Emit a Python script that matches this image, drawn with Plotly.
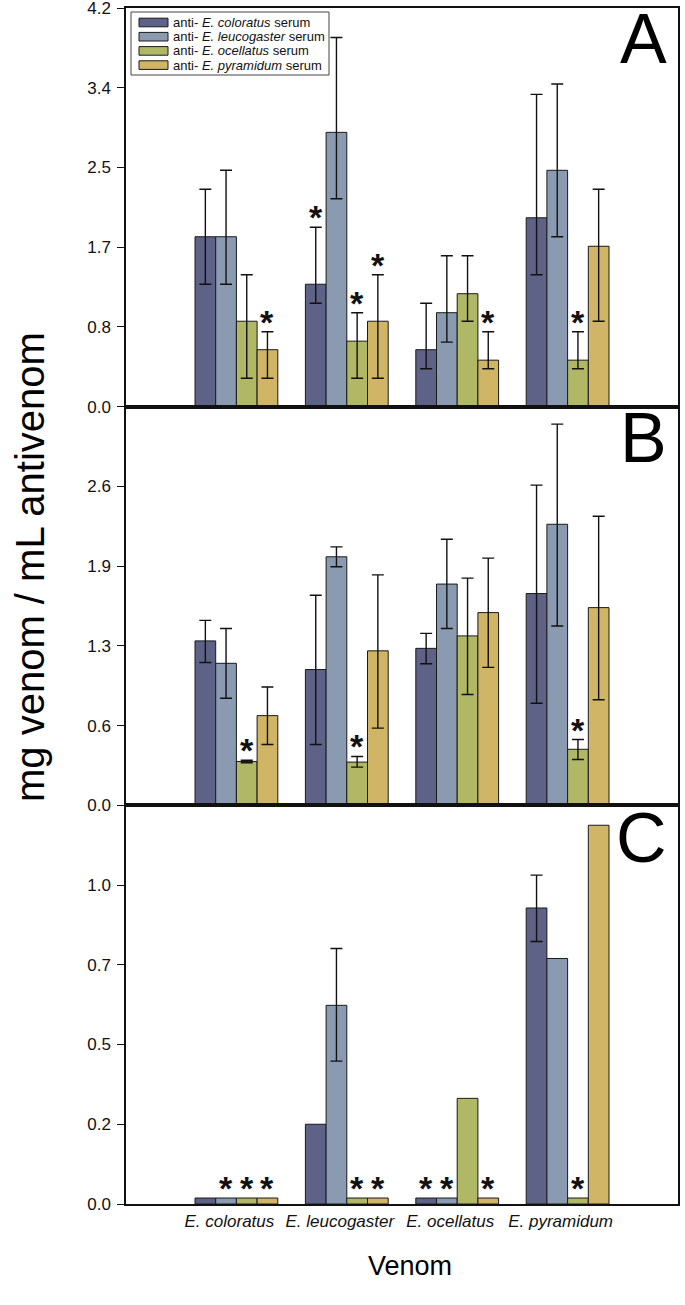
import plotly.graph_objects as go
from plotly.subplots import make_subplots

# ---------------- data ----------------
venoms = ["E. coloratus", "E. leucogaster", "E. ocellatus", "E. pyramidum"]
sera = ["coloratus", "leucogaster", "ocellatus", "pyramidum"]
colors = ["#5e6286", "#8a9bb1", "#b0b866", "#d0b566"]

# Panel A (value, upper end of error bar, lower end of error bar), order of venoms
A_col = [1.79, 1.29, 0.60, 1.99]
A_col_hi = [2.29, 1.89, 1.09, 3.29]
A_col_lo = [1.29, 1.09, 0.40, 1.39]
A_leu = [1.79, 2.89, 0.99, 2.49]
A_leu_hi = [2.49, 3.89, 1.59, 3.40]
A_leu_lo = [1.29, 2.19, 0.68, 1.79]
A_oce = [0.90, 0.69, 1.19, 0.49]
A_oce_hi = [1.39, 0.99, 1.59, 0.79]
A_oce_lo = [0.30, 0.30, 0.90, 0.40]
A_pyr = [0.60, 0.90, 0.49, 1.69]
A_pyr_hi = [0.79, 1.39, 0.79, 2.29]
A_pyr_lo = [0.30, 0.30, 0.40, 0.90]

# Panel B
B_col = [1.32, 1.09, 1.26, 1.70]
B_col_hi = [1.485, 1.686, 1.38, 2.57]
B_col_lo = [1.147, 0.488, 1.136, 0.82]
B_leu = [1.14, 1.995, 1.776, 2.256]
B_leu_hi = [1.42, 2.075, 2.136, 3.06]
B_leu_lo = [0.86, 1.915, 1.42, 1.44]
B_oce = [0.352, 0.347, 1.36, 0.45]
B_oce_hi = [0.362, 0.392, 1.824, 0.528]
B_oce_lo = [0.342, 0.307, 0.89, 0.368]
B_pyr = [0.72, 1.24, 1.547, 1.587]
B_pyr_hi = [0.95, 1.85, 1.984, 2.32]
B_pyr_lo = [0.488, 0.62, 1.107, 0.848]

# Panel C
C_col = [0.018, 0.24, 0.018, 0.891]
C_col_hi = [None, None, None, 0.99]
C_col_lo = [None, None, None, 0.79]
C_leu = [0.018, 0.598, 0.018, 0.739]
C_leu_hi = [None, 0.769, None, None]
C_leu_lo = [None, 0.43, None, None]
C_oce = [0.018, 0.018, 0.318, 0.018]
C_oce_hi = [None, None, None, None]
C_oce_lo = [None, None, None, None]
C_pyr = [0.018, 0.018, 0.018, 1.14]
C_pyr_hi = [None, None, None, None]
C_pyr_lo = [None, None, None, None]

# significance asterisks (1 = asterisk above bar)
A_star = {"coloratus": [0, 1, 0, 0], "leucogaster": [0, 0, 0, 0],
          "ocellatus": [0, 1, 0, 1], "pyramidum": [1, 1, 1, 0]}
B_star = {"coloratus": [0, 0, 0, 0], "leucogaster": [0, 0, 0, 0],
          "ocellatus": [1, 1, 0, 1], "pyramidum": [0, 0, 0, 0]}
C_star = {"coloratus": [0, 0, 1, 0], "leucogaster": [1, 0, 1, 0],
          "ocellatus": [1, 1, 0, 1], "pyramidum": [1, 1, 1, 0]}

# axis ticks
A_tickvals = [0, 0.84, 1.68, 2.52, 3.36, 4.2]
A_ticktext = ["0.0", "0.8", "1.7", "2.5", "3.4", "4.2"]
B_tickvals = [0, 0.64, 1.28, 1.92, 2.56]
B_ticktext = ["0.0", "0.6", "1.3", "1.9", "2.6"]
C_tickvals = [0, 0.24, 0.48, 0.72, 0.96]
C_ticktext = ["0.0", "0.2", "0.5", "0.7", "1.0"]
A_range = [0, 4.2]
B_range = [0, 3.2]
C_range = [0, 1.2]

panels = [
    ("A", [A_col, A_leu, A_oce, A_pyr], [A_col_hi, A_leu_hi, A_oce_hi, A_pyr_hi],
     [A_col_lo, A_leu_lo, A_oce_lo, A_pyr_lo], A_star, A_tickvals, A_ticktext, A_range),
    ("B", [B_col, B_leu, B_oce, B_pyr], [B_col_hi, B_leu_hi, B_oce_hi, B_pyr_hi],
     [B_col_lo, B_leu_lo, B_oce_lo, B_pyr_lo], B_star, B_tickvals, B_ticktext, B_range),
    ("C", [C_col, C_leu, C_oce, C_pyr], [C_col_hi, C_leu_hi, C_oce_hi, C_pyr_hi],
     [C_col_lo, C_leu_lo, C_oce_lo, C_pyr_lo], C_star, C_tickvals, C_ticktext, C_range),
]

# ---------------- layout geometry ----------------
W, H = 685, 1305
ML, MR, MT, MB = 126, 7, 8, 101
PW, PH = W - ML - MR, H - MT - MB
FONT = "Liberation Sans, Arial, sans-serif"
BARGAP = 0.25
x_pos = list(range(len(venoms)))


def xp(px):
    return (px - ML) / PW


def yp(py):
    return (H - MB - py) / PH


def err_amount(bound, vals, upper):
    # "NaN" makes plotly skip the error bar for that bar entirely
    out = []
    for b, a in zip(bound, vals):
        if b is None:
            out.append("NaN")
        else:
            out.append(round(b - a, 4) if upper else round(a - b, 4))
    return out


fig = make_subplots(rows=3, cols=1, shared_xaxes=True, vertical_spacing=0)

annotations = []
nser = len(sera)
bw = (1 - BARGAP) / nser
for r, (letter, vals, his, los, stars, tv, tt, rng) in enumerate(panels, start=1):
    yref = "y" if r == 1 else f"y{r}"
    for j, s in enumerate(sera):
        v = vals[j]
        hi = his[j]
        lo = los[j]
        fig.add_trace(go.Bar(
            x=x_pos, y=v, name=f"anti-{s}",
            marker=dict(color=colors[j], line=dict(color="#1a1a1a", width=1)),
            error_y=dict(type="data", symmetric=False,
                         array=err_amount(hi, v, True),
                         arrayminus=err_amount(lo, v, False),
                         color="#111111", thickness=1.4, width=6),
            showlegend=False, hoverinfo="skip",
        ), row=r, col=1)
        for i in range(len(venoms)):
            if stars[s][i]:
                top = hi[i] if hi[i] is not None else v[i]
                annotations.append(dict(
                    x=i - (1 - BARGAP) / 2 + bw * (j + 0.5), y=top,
                    xref="x" if r == 1 else f"x{r}", yref=yref,
                    text="<b>*</b>", showarrow=False, yanchor="bottom",
                    yshift=-11, font=dict(family=FONT, size=34, color="#111111")))
    fig.update_yaxes(row=r, col=1, range=rng, tickvals=tv, ticktext=tt,
                     ticks="outside", ticklen=7, tickwidth=1.3, tickcolor="#111111",
                     showline=True, linecolor="#111111", linewidth=1.5, mirror=True,
                     showgrid=False, zeroline=False, automargin=False,
                     ticklabeloverflow="allow", ticklabelstandoff=3,
                     tickfont=dict(family=FONT, size=17, color="#111111"))
    fig.update_xaxes(row=r, col=1, range=[-1, 4], tickvals=x_pos,
                     ticktext=[f"<i>{v}</i>" for v in venoms],
                     showticklabels=(r == 3), ticks="", automargin=False,
                     showline=True, linecolor="#111111", linewidth=1.5, mirror=True,
                     showgrid=False, zeroline=False,
                     tickfont=dict(family=FONT, size=17, color="#111111"))
    # panel letter
    dom_top = [6, 405, 805][r - 1]
    annotations.append(dict(x=xp(669), y=yp(dom_top - 8), xref="paper", yref="paper",
                            text=letter, showarrow=False, xanchor="right", yanchor="top",
                            font=dict(family=FONT, size=70, color="black")))

fig.update_xaxes(row=3, col=1, ticklabelstandoff=1, ticklabelshift=-7)

# axis titles
annotations.append(dict(x=xp(30), y=yp(567), xref="paper", yref="paper",
                        text="mg venom / mL antivenom", textangle=-90, showarrow=False,
                        xanchor="center", yanchor="middle",
                        font=dict(family=FONT, size=40, color="black")))
annotations.append(dict(x=xp(410), y=yp(1266), xref="paper", yref="paper",
                        text="Venom", showarrow=False, xanchor="center", yanchor="middle",
                        font=dict(family=FONT, size=27, color="black")))

# manual legend (compact, as in the reference)
shapes = []
leg_x0, leg_x1, leg_y0, leg_y1 = 131, 329, 12, 75
shapes.append(dict(type="rect", xref="paper", yref="paper",
                   x0=xp(leg_x0), x1=xp(leg_x1), y0=yp(leg_y1), y1=yp(leg_y0),
                   line=dict(color="#444444", width=1), fillcolor="white", layer="above"))
row_y0, row_step = 22.5, 14.2
for j, s in enumerate(sera):
    cy = row_y0 + row_step * j
    shapes.append(dict(type="rect", xref="paper", yref="paper",
                       x0=xp(139), x1=xp(168), y0=yp(cy + 4.3), y1=yp(cy - 4.3),
                       line=dict(color="#1a1a1a", width=1), fillcolor=colors[j],
                       layer="above"))
    annotations.append(dict(x=xp(171), y=yp(cy), xref="paper", yref="paper",
                            text=f"anti- <i>E. {s}</i> serum", showarrow=False,
                            xanchor="left", yanchor="middle",
                            font=dict(family=FONT, size=13, color="#111111")))

fig.update_layout(
    width=W, height=H,
    margin=dict(l=ML, r=MR, t=MT, b=MB, autoexpand=False),
    barmode="group", bargap=BARGAP, bargroupgap=0,
    plot_bgcolor="white", paper_bgcolor="white",
    showlegend=False,
    annotations=annotations, shapes=shapes,
    font=dict(family=FONT, color="#111111"),
)

fig.write_html("out.html", config={"displayModeBar": False},
               post_script="document.body.style.margin='0px';"
                           "document.body.style.overflow='hidden';")
